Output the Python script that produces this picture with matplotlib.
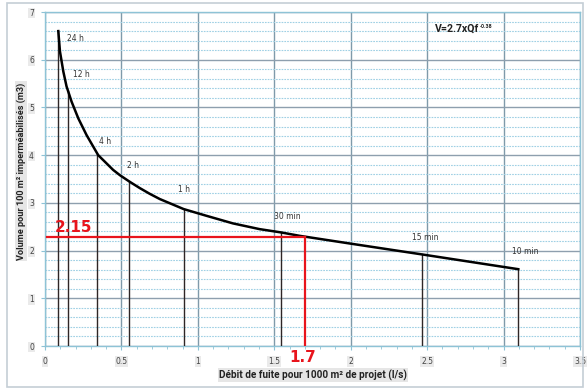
import matplotlib
matplotlib.use("Agg")
import matplotlib.pyplot as plt
from matplotlib.patches import Rectangle
from matplotlib.ticker import MultipleLocator

# Curve
curve_x = [0.087, 0.098, 0.120, 0.141, 0.174, 0.218, 0.272, 0.348, 0.446, 0.49,
           0.555, 0.62, 0.685, 0.751, 0.907, 1.055, 1.229, 1.403, 1.545, 1.664,
           1.99, 2.465, 3.096]
curve_y = [6.60, 6.17, 5.75, 5.44, 5.12, 4.77, 4.42, 4.00, 3.69, 3.58,
           3.44, 3.31, 3.19, 3.08, 2.87, 2.73, 2.57, 2.45, 2.38, 2.31,
           2.15, 1.92, 1.61]

# Durations with drop lines
dur_labels = ["24 h", "12 h", "4 h", "2 h", "1 h", "30 min", "15 min", "10 min"]
dur_x = [0.087, 0.148, 0.34, 0.55, 0.907, 1.545, 2.465, 3.096]
dur_y = [6.60, 5.35, 4.03, 3.45, 2.87, 2.38, 1.92, 1.61]
lab_x = [0.142, 0.18, 0.355, 0.537, 0.87, 1.50, 2.40, 3.057]
lab_y = [6.45, 5.68, 4.28, 3.78, 3.28, 2.72, 2.27, 1.98]

# Red reading
red_q = 1.7
red_v = 2.28
red_v_label = "2.15"
red_q_label = "1.7"

x_ticks = [0, 0.5, 1, 1.5, 2, 2.5, 3, 3.5]
x_tick_labels = ["0", "0.5", "1", "1.5", "2", "2.5", "3", "3.5"]
y_ticks = [0, 1, 2, 3, 4, 5, 6, 7]

NARROW = ["Roboto", "DejaVu Sans"]

W, H = 587, 390
fig = plt.figure(figsize=(W / 100, H / 100), dpi=100)
fig.patch.set_facecolor("white")
fig.add_artist(Rectangle((7 / W, 3 / H), 576 / W, 384 / H, transform=fig.transFigure,
                         fill=False, edgecolor="#c5ced6", linewidth=1.2))

ax = fig.add_axes([45 / W, 1 - 346 / H, 535 / W, 334 / H])
ax.set_xlim(0, 3.5)
ax.set_ylim(0, 7)

ax.set_xticks(x_ticks)
ax.set_xticklabels(x_tick_labels)
ax.set_yticks(y_ticks)
ax.xaxis.set_minor_locator(MultipleLocator(0.1))
ax.yaxis.set_minor_locator(MultipleLocator(0.2))

ax.grid(which="major", axis="x", color="#7f9aaa", linewidth=1.0)
ax.grid(which="major", axis="y", color="#8e9fae", linewidth=1.0)
ax.grid(which="minor", axis="y", color="#9fd0e4", linewidth=0.8, linestyle=(0, (1.5, 1)))
ax.set_axisbelow(True)

for s in ax.spines.values():
    s.set_color("#8ec3d6")
    s.set_linewidth(1.0)

ax.tick_params(which="major", length=3, color="#8ec3d6", labelsize=5.5,
               labelcolor="#444444", pad=5)
ax.tick_params(which="minor", length=2, color="#8ec3d6")
ax.tick_params(axis="y", which="minor", length=0)

for lab in ax.get_xticklabels() + ax.get_yticklabels():
    lab.set_bbox(dict(facecolor="#eaeaea", edgecolor="none", pad=0.6))

# drop lines
for x, y in zip(dur_x, dur_y):
    ax.plot([x, x], [0, y], color="#2e2626", linewidth=1.0, zorder=3)

# curve
ax.plot(curve_x, curve_y, color="black", linewidth=1.8, zorder=4,
        solid_joinstyle="round")

for t, x, y in zip(dur_labels, lab_x, lab_y):
    ax.text(x, y, t, fontsize=5.5, color="#333333", ha="left", va="center", zorder=5)

# red reading lines
ax.plot([0.01, red_q], [red_v, red_v], color="#e8141c", linewidth=1.6, zorder=5)
ax.plot([red_q, red_q], [0, red_v], color="#e8141c", linewidth=1.6, zorder=5)
ax.text(0.065, red_v + 0.05, red_v_label, fontsize=11, fontweight="bold",
        color="#e8141c", ha="left", va="bottom", zorder=6)
fig.text(289 / W, 1 - 358 / H, red_q_label, fontsize=11, fontweight="bold",
         color="#e8141c", ha="left", va="center")

# formula
main = ax.text(2.55, 6.65, "V=2.7xQf", fontsize=7.6, fontweight="bold", color="#222222",
               ha="left", va="center", zorder=6, family=NARROW)
ax.annotate("-0.38", xy=(1.0, 0.95), xycoords=main, xytext=(0.8, 0),
            textcoords="offset points", fontsize=3.8, fontweight="bold",
            color="#222222", ha="left", va="top", zorder=6, family=NARROW)

fig.text(313 / W, 1 - 375 / H, "Débit de fuite pour 1000 m² de projet (l/s)",
         fontsize=7.2, fontweight="bold", color="#222222", ha="center", va="center",
         family=NARROW, bbox=dict(facecolor="#e6e6e6", edgecolor="none", pad=0.8))
fig.text(21 / W, 1 - 171 / H, "Volume pour 100 m² imperméabilisés (m3)",
         fontsize=6.6, fontweight="bold", color="#222222", ha="center", va="center",
         rotation=90, family=NARROW,
         bbox=dict(facecolor="#e6e6e6", edgecolor="none", pad=0.8))

fig.savefig("out.png", dpi=100, facecolor="white")
